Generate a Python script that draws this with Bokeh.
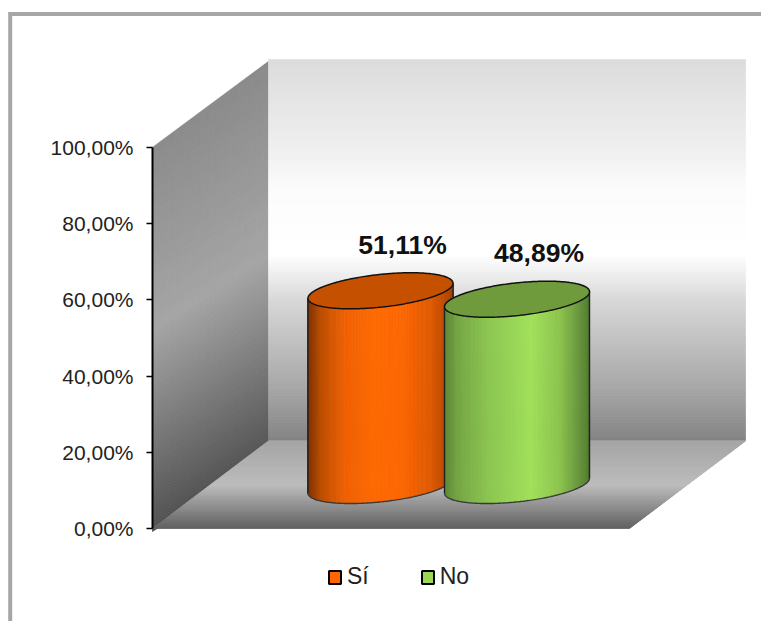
import numpy as np
from bokeh.embed import file_html
from bokeh.resources import INLINE
from bokeh.plotting import figure
from bokeh.models import Range1d, LinearAxis, FixedTicker, Legend, LegendItem
from bokeh.core.properties import value

categories = ["Sí", "No"]
percentages = [51.11, 48.89]
tick_values = [0, 20, 40, 60, 80, 100]
tick_labels = ["0,00%", "20,00%", "40,00%", "60,00%", "80,00%", "100,00%"]
legend_colors = ["#FF6600", "#99D955"]
top_colors = ["#C45000", "#6F9B3D"]
body_shades = [
    [(0, "#803300"), (0.1, "#C05000"), (0.25, "#F06000"), (0.45, "#FF6A00"),
     (0.65, "#FF6600"), (0.85, "#E05A00"), (1, "#A84400")],
    [(0, "#5F8A3A"), (0.1, "#76A845"), (0.3, "#8CC750"), (0.6, "#A2E25A"),
     (0.8, "#8CC44E"), (0.95, "#628F3B"), (1, "#558033")],
]

PX = 3.81          # pixels per percentage point
W, H = 761, 621
AX_X, AX_Y = 152, 528
DEPTH_X, DEPTH_Y = 116, 87.5
FLOOR_W = 477
FONT = "Liberation Sans"


def v(px):
    return px / PX


def py(pixel_y):
    return (AX_Y - pixel_y) / PX


p = figure(width=W, height=H, output_backend="svg", toolbar_location=None,
           x_axis_location=None, y_axis_location=None,
           x_range=Range1d(0, W), y_range=Range1d(py(H), py(0)),
           min_border=0, min_border_left=0, min_border_right=0,
           min_border_top=0, min_border_bottom=0)
p.outline_line_color = None
p.xgrid.visible = False
p.ygrid.visible = False
p.background_fill_color = "white"
p.border_fill_color = "white"


def grey(stops, t):
    g = np.interp(t, [s[0] for s in stops], [s[1] for s in stops])
    return [f"#{int(c):02x}{int(c):02x}{int(c):02x}" for c in g]


def hexmix(stops, t):
    rgb = []
    ts = [s[0] for s in stops]
    cols = [[int(s[1][i:i + 2], 16) for i in (1, 3, 5)] for s in stops]
    for k in range(3):
        rgb.append(np.interp(t, ts, [c[k] for c in cols]))
    return [f"#{int(r):02x}{int(g):02x}{int(b):02x}" for r, g, b in zip(*rgb)]


def strips(xs, ys, colors):
    p.patches(xs, ys, fill_color=colors, line_color=colors, line_width=0.7)


dz = v(DEPTH_Y)
bx0, bx1 = AX_X + DEPTH_X, AX_X + DEPTH_X + FLOOR_W

# left wall: bands slightly flatter than the depth direction, trimmed by what is drawn over them
rise = 75.0
le = np.arange(120.0, 532.0, 1.5)
lm = (le[:-1] + le[1:]) / 2
strips([[AX_X, bx0, bx0, AX_X] for _ in lm],
       [[py(b), py(b - rise), py(a - rise), py(a)] for a, b in zip(le[:-1], le[1:])],
       grey([(134, 0x88), (330, 0xA4), (528, 0x50)], lm))
p.patch([AX_X - 1, bx0 + 1, bx0 + 1, AX_X - 1], [100.0, 100.0 + dz, py(20), py(20)],
        fill_color="white", line_color="white", line_width=0.5)

# outer frame
p.line([9.7, 9.7, W], [py(H), py(13.5), py(13.5)],
       line_color="#A6A6A6", line_width=4, line_join="miter")

# back wall
be = np.arange(59.0, 442.0, 3.0)
bm = (be[:-1] + be[1:]) / 2
strips([[bx0, bx1, bx1, bx0] for _ in bm],
       [[py(b), py(b), py(a), py(a)] for a, b in zip(be[:-1], be[1:])],
       grey([(59, 0xDC), (150, 0xF0), (190, 0xFC), (240, 0xFF), (255, 0xFF),
             (300, 0xD8), (400, 0xA0), (441, 0x82)], bm))

# floor
fz = np.linspace(0, dz, 88)
ft = (fz[:-1] + fz[1:]) / 2
slope = DEPTH_X / DEPTH_Y * PX
p.patch([AX_X, AX_X + FLOOR_W, bx1, bx0], [0, 0, dz, dz], fill_color="#A6A6A6", line_color=None)
strips([[AX_X + a * slope, AX_X + FLOOR_W + a * slope, AX_X + FLOOR_W + b * slope, AX_X + b * slope]
        for a, b in zip(fz[:-1], fz[1:])],
       [[a, a, b, b] for a, b in zip(fz[:-1], fz[1:])],
       grey([(0, 0x5E), (dz * 0.5, 0xBE), (dz, 0xA6)], ft))

# cylinders
CENTERS = [380, 516.5]
RX = 72.5
SHEAR = 7.5 / 72.5
RY = 16.4
BASE = v(43)


def arc(u, sign):
    return v(SHEAR * u + sign * RY * np.sqrt(np.clip(1 - (u / RX) ** 2, 0, 1)))


for i, cat in enumerate(categories):
    cx, val = CENTERS[i], percentages[i]
    top = BASE + val
    ue = RX * np.cos(np.linspace(np.pi, 0, 145))
    um = (ue[:-1] + ue[1:]) / 2
    cols = hexmix(body_shades[i], (um + RX) / (2 * RX))
    xs, ys = [], []
    for a, b in zip(ue[:-1], ue[1:]):
        xs.append([cx + a, cx + b, cx + b, cx + a])
        ys.append([BASE + arc(a, -1), BASE + arc(b, -1), top + arc(b, -1), top + arc(a, -1)])
    strips(xs, ys, cols)
    # outline: sides and lower rim
    p.line(list(cx + ue), list(BASE + arc(ue, -1)), line_color="#3A3A3A", line_width=1.4)
    p.line([cx - RX, cx - RX], [BASE + arc(-RX, -1), top + arc(-RX, -1)], line_color="#222222", line_width=1.4)
    p.line([cx + RX, cx + RX], [BASE + arc(RX, -1), top + arc(RX, -1)], line_color="#222222", line_width=1.4)
    # top ellipse
    ex = np.concatenate([ue, ue[::-1]])
    ey = np.concatenate([arc(ue, -1), arc(ue[::-1], 1)]) + top
    p.patch(list(cx + ex), list(ey), fill_color=top_colors[i], line_color="#111111", line_width=1.5)
    # data label
    p.text([cx + 22], [top + v(46)], text=[f"{val:.2f}".replace(".", ",") + "%"],
           text_font=value(FONT), text_font_style="bold", text_font_size="26.5px",
           text_color="#111111", text_align="center", text_baseline="alphabetic")

# y axis
axis = LinearAxis(fixed_location=AX_X, bounds=(0, 100),
                  ticker=FixedTicker(ticks=tick_values),
                  major_label_overrides={t_: l for t_, l in zip(tick_values, tick_labels)})
axis.axis_line_color = "#000000"
axis.axis_line_width = 2
axis.major_tick_line_color = "#000000"
axis.major_tick_line_width = 1.5
axis.major_tick_in = 0
axis.major_tick_out = 6
axis.minor_tick_line_color = None
axis.major_label_standoff = 13
axis.major_label_text_font = FONT
axis.major_label_text_font_size = "21px"
axis.major_label_text_color = "#222222"
p.add_layout(axis, "left")

# legend
items = []
for i, cat in enumerate(categories):
    r = p.quad(left=[np.nan], right=[np.nan], top=[np.nan], bottom=[np.nan],
               fill_color=legend_colors[i], line_color="#000000", line_width=2)
    items.append(LegendItem(label=cat, renderers=[r]))
legend = Legend(items=items, orientation="horizontal", location=(327, 31),
                glyph_width=15, glyph_height=16, label_standoff=5, spacing=51,
                padding=0, margin=0, background_fill_alpha=0, border_line_color=None,
                label_text_font=FONT, label_text_font_size="23px", label_text_color="#222222")
p.add_layout(legend, "center")

open("out.html", "w").write(file_html(p, INLINE))
